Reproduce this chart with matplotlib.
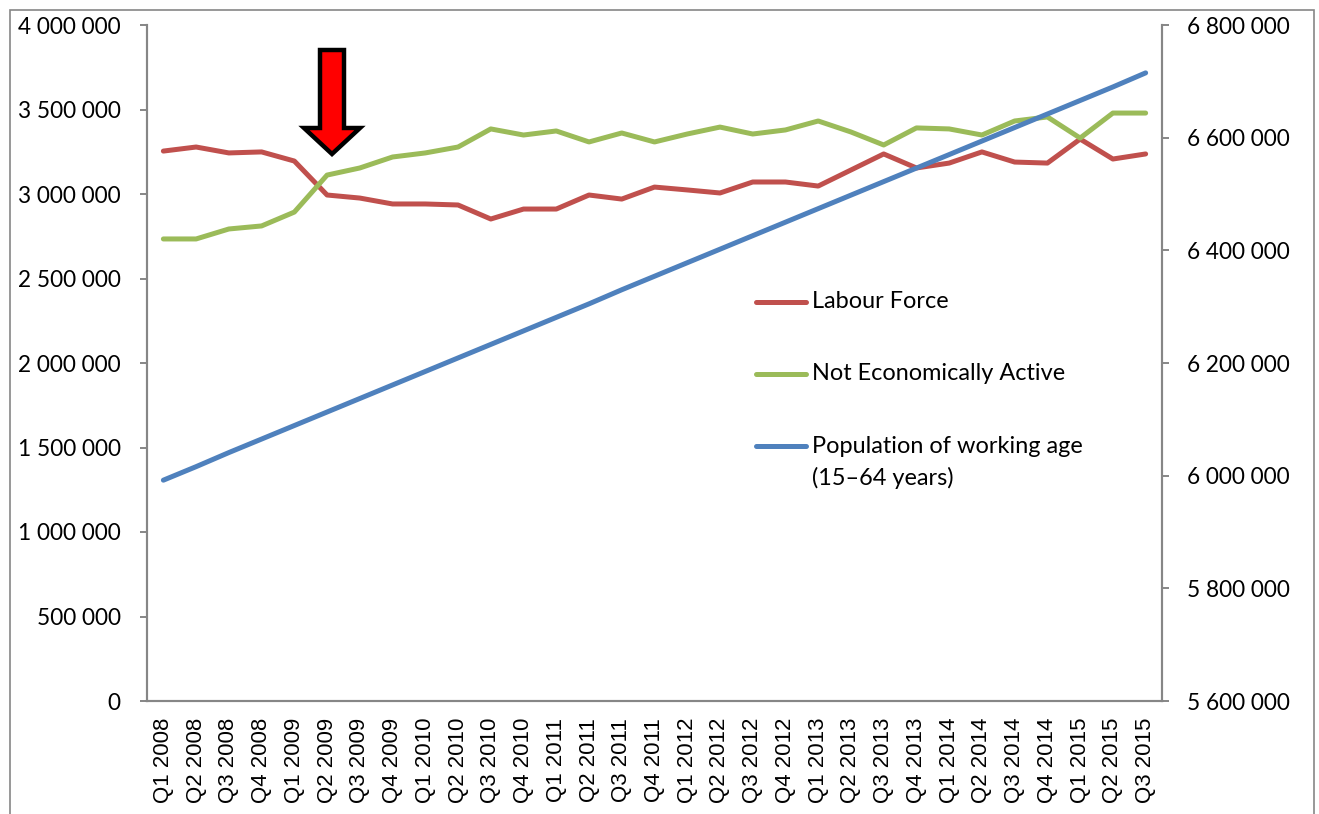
import matplotlib
matplotlib.use("Agg")
import matplotlib.pyplot as plt
from matplotlib.lines import Line2D
from matplotlib.patches import Polygon, Rectangle
from matplotlib.ticker import FuncFormatter, FixedLocator

quarters = ["Q1 2008", "Q2 2008", "Q3 2008", "Q4 2008",
            "Q1 2009", "Q2 2009", "Q3 2009", "Q4 2009",
            "Q1 2010", "Q2 2010", "Q3 2010", "Q4 2010",
            "Q1 2011", "Q2 2011", "Q3 2011", "Q4 2011",
            "Q1 2012", "Q2 2012", "Q3 2012", "Q4 2012",
            "Q1 2013", "Q2 2013", "Q3 2013", "Q4 2013",
            "Q1 2014", "Q2 2014", "Q3 2014", "Q4 2014",
            "Q1 2015", "Q2 2015", "Q3 2015"]

labour_force = [3254000, 3278000, 3243000, 3249000, 3195000, 2994000, 2976000, 2941000,
                2941000, 2935000, 2852000, 2911000, 2911000, 2994000, 2970000, 3041000,
                3024000, 3006000, 3071000, 3071000, 3047000, 3142000, 3237000, 3154000,
                3183000, 3249000, 3189000, 3183000, 3325000, 3207000, 3237000]

not_active = [2734000, 2734000, 2793000, 2811000, 2893000, 3112000, 3154000, 3219000,
              3243000, 3278000, 3385000, 3349000, 3373000, 3308000, 3361000, 3308000,
              3355000, 3396000, 3355000, 3379000, 3432000, 3367000, 3290000, 3391000,
              3385000, 3349000, 3432000, 3456000, 3331000, 3479000, 3479000]

working_age = [5992000, 6016000, 6041000, 6065000, 6089000, 6113000, 6137000, 6161000,
               6185000, 6209000, 6233000, 6257000, 6281000, 6305000, 6330000, 6354000,
               6378000, 6402000, 6426000, 6450000, 6474000, 6498000, 6522000, 6546000,
               6570000, 6594000, 6618000, 6642000, 6666000, 6690000, 6715000]

left_ticks = [0, 500000, 1000000, 1500000, 2000000, 2500000, 3000000, 3500000, 4000000]
right_ticks = [5600000, 5800000, 6000000, 6200000, 6400000, 6600000, 6800000]

series_names = ["Labour Force", "Not Economically Active", "Population of working age", "(15\u201364 years)"]

RED = "#C0504D"
GREEN = "#9BBB59"
BLUE = "#4F81BD"
GREY = "#868686"

W, H = 1319, 814
fig = plt.figure(figsize=(W / 100, H / 100), dpi=100)
fig.patch.set_facecolor("white")

def fx(px):
    return px / W

def fy(py):
    return 1 - py / H

ax = fig.add_axes([fx(147), fy(701), fx(1162) - fx(147), fy(25) - fy(701)])
ax2 = ax.twinx()

fmt = FuncFormatter(lambda v, p: f"{int(round(v)):,}".replace(",", " "))
YSIZE = 16.3

x = list(range(len(quarters)))
lw = 3.6
ax.plot(x, labour_force, color=RED, lw=lw, solid_capstyle="round", solid_joinstyle="round", zorder=3)
ax.plot(x, not_active, color=GREEN, lw=lw, solid_capstyle="round", solid_joinstyle="round", zorder=3)
ax2.plot(x, working_age, color=BLUE, lw=lw, solid_capstyle="round", solid_joinstyle="round", zorder=3)

ax.set_xlim(-0.5, len(quarters) - 0.5)
ax.set_ylim(0, 4000000)
ax2.set_ylim(5600000, 6800000)

ax.yaxis.set_major_locator(FixedLocator(left_ticks))
ax.yaxis.set_major_formatter(fmt)
ax2.yaxis.set_major_locator(FixedLocator(right_ticks))
ax2.yaxis.set_major_formatter(fmt)

ax.set_xticks(x)
ax.set_xticklabels(quarters, rotation=90, fontfamily="Liberation Sans", fontsize=16)
ax.tick_params(axis="x", length=0, pad=12)
ax.tick_params(axis="y", length=5, width=1.4, color=GREY, pad=14)
ax2.tick_params(axis="y", length=5, width=1.4, color=GREY, pad=13)
for lab in ax.get_yticklabels():
    lab.set_fontfamily("Lato"); lab.set_fontsize(YSIZE)
for lab in ax2.get_yticklabels():
    lab.set_fontfamily("Lato"); lab.set_fontsize(YSIZE)

for a in (ax, ax2):
    a.spines["top"].set_visible(False)
    for s in ("left", "right", "bottom"):
        a.spines[s].set_color(GREY)
        a.spines[s].set_linewidth(1.5)
ax.patch.set_alpha(0)

# Legend (manual, Excel-style with handle on first text line)
leg_font = dict(family="Lato", size=16.9)
entries = [(RED, series_names[0], 302), (GREEN, series_names[1], 374), (BLUE, series_names[2], 446)]
for col, name, py in entries:
    fig.add_artist(Line2D([fx(756), fx(806)], [fy(py), fy(py)], color=col, lw=lw,
                          solid_capstyle="round"))
    fig.text(fx(812), fy(py), name, va="center", ha="left", **leg_font)
fig.text(fx(812), fy(478), series_names[3], va="center", ha="left", **leg_font)

# Red block arrow
pts_px = [(320, 50), (344, 50), (344, 128), (360, 128), (332, 154), (304, 128), (320, 128)]
arrow = Polygon([(fx(px), fy(py)) for px, py in pts_px], closed=True,
                facecolor="#FF0000", edgecolor="black", lw=3.2, joinstyle="miter",
                transform=fig.transFigure, zorder=10)
fig.add_artist(arrow)

# Outer chart border
fig.add_artist(Rectangle((fx(10), fy(900)), fx(1314) - fx(10), fy(10) - fy(900),
                         transform=fig.transFigure, fill=False, edgecolor=GREY, lw=1.2))

fig.savefig("out.png", dpi=100, facecolor="white")
